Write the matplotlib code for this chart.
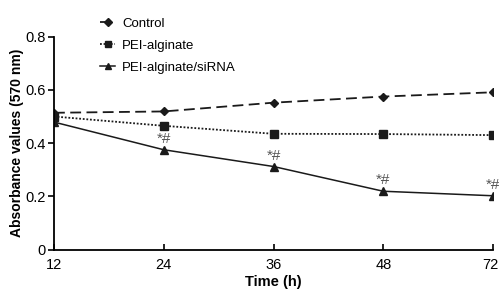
import matplotlib
matplotlib.use("Agg")
import matplotlib.pyplot as plt
import matplotlib.transforms as mtransforms

plt.rcParams['font.family'] = ['Liberation Sans', 'DejaVu Sans']

time_labels = ["12", "24", "36", "48", "72"]
control = [0.514, 0.519, 0.552, 0.575, 0.591]
pei_alginate = [0.500, 0.465, 0.435, 0.434, 0.430]
pei_sirna = [0.479, 0.375, 0.312, 0.219, 0.202]
sig_labels = ["", "*#", "*#", "*#", "*#"]
y_ticks = [0, 0.2, 0.4, 0.6, 0.8]
y_tick_labels = ["0", "0.2", "0.4", "0.6", "0.8"]

fig = plt.figure(figsize=(4.99, 2.94), dpi=100)
ax = fig.add_axes([54/499, 1-249.5/294, (493-54)/499, (249.5-36.7)/294])
x = list(range(len(time_labels)))

ax.plot(x, control, color='#1a1a1a', lw=1.3, ls=(0, (6, 3)), marker='D', ms=4.5, label='Control')
ax.plot(x, pei_alginate, color='#1a1a1a', lw=1.3, ls=(0, (1, 1)), marker='s', ms=6, label='PEI-alginate')
ax.plot(x, pei_sirna, color='#1a1a1a', lw=1.1, ls='-', marker='^', ms=6, label='PEI-alginate/siRNA')

for xi, yi, s in zip(x, pei_sirna, sig_labels):
    if s:
        ax.annotate(s, (xi, yi), xytext=(0, 5), textcoords='offset points',
                    ha='center', va='baseline', fontsize=11, color='#555555')

ax.set_xlim(0, 4)
ax.set_ylim(0, 0.8)
ax.set_xticks(x)
ax.set_xticklabels(time_labels)
ax.set_yticks(y_ticks)
ax.set_yticklabels(y_tick_labels)
ax.tick_params(axis='x', direction='in', length=4, width=1.2, labelsize=10.5, pad=6)
ax.tick_params(axis='y', direction='out', length=4, width=1.2, labelsize=10.5, pad=2)
for s in ['top', 'right']:
    ax.spines[s].set_visible(False)
for s in ['left', 'bottom']:
    ax.spines[s].set_linewidth(1.3)

# shift last x tick label slightly left so it stays within the figure
last = ax.get_xticklabels()[-1]
last.set_transform(last.get_transform() + mtransforms.ScaledTranslation(-3/100, 0, fig.dpi_scale_trans))

ax.set_xlabel('Time (h)', fontsize=10.5, fontweight='bold', labelpad=2)
ax.set_ylabel('Absorbance values (570 nm)', fontsize=10, fontweight='bold', labelpad=1)

leg = ax.legend(loc='upper left', bbox_to_anchor=(0.092, 1.115), frameon=False,
                fontsize=9.5, handlelength=1.2, handletextpad=0.5, labelspacing=0.75,
                markerscale=0.8, borderaxespad=0)

fig.savefig('out.png', dpi=100)
